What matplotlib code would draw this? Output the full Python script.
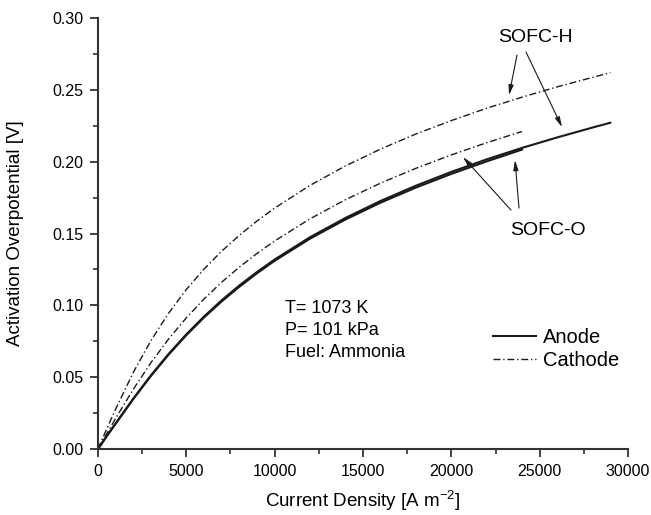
import matplotlib.pyplot as plt

plt.rcParams['font.family'] = ['Liberation Sans', 'DejaVu Sans']

# current density [A m-2]
x_h = [0, 500, 1000, 2000, 3000, 4000, 5000, 6000, 7000, 8000, 9000, 10000,
       12000, 14000, 16000, 18000, 20000, 22000, 24000, 26000, 28000, 29000]
x_o = [0, 500, 1000, 2000, 3000, 4000, 5000, 6000, 7000, 8000, 9000, 10000,
       12000, 14000, 16000, 18000, 20000, 22000, 24000]

# activation overpotential [V]
anode_h = [0, 0.009, 0.0178, 0.0351, 0.0513, 0.0662, 0.0798, 0.0922, 0.1035,
           0.1138, 0.1232, 0.1319, 0.1474, 0.1608, 0.1727, 0.1833, 0.1929,
           0.2016, 0.2096, 0.2169, 0.2238, 0.2271]
cathode_h = [0, 0.0141, 0.0278, 0.0533, 0.0755, 0.0946, 0.111, 0.1252, 0.1377,
             0.1487, 0.1587, 0.1677, 0.1835, 0.197, 0.2088, 0.2193, 0.2286,
             0.2372, 0.2449, 0.2521, 0.2587, 0.262]
anode_o = [0, 0.009, 0.0176, 0.0348, 0.0509, 0.0657, 0.0792, 0.0915, 0.1027,
           0.1129, 0.1223, 0.131, 0.1464, 0.1597, 0.1715, 0.182, 0.1915,
           0.2002, 0.2084]
cathode_o = [0, 0.0107, 0.0213, 0.0416, 0.0601, 0.0766, 0.0913, 0.1044,
             0.1161, 0.1266, 0.1361, 0.1448, 0.1602, 0.1735, 0.1851, 0.1954,
             0.2047, 0.2132, 0.221]

conditions = ['T= 1073 K', 'P= 101 kPa', 'Fuel: Ammonia']

dashdot = (0, (5, 2, 1, 2))
ink = '#1a1a1a'

fig = plt.figure(figsize=(6.51, 5.15), dpi=100)
ax = fig.add_axes([0.1505, 0.1282, 0.8142, 0.8368])

ax.plot(x_h, anode_h, color=ink, lw=1.5, label='Anode')
ax.plot(x_h, cathode_h, color=ink, lw=1.0, linestyle=dashdot, label='Cathode')
ax.plot(x_o, anode_o, color=ink, lw=1.5)
ax.plot(x_o, cathode_o, color=ink, lw=1.0, linestyle=dashdot)

ax.set_xlim(0, 30000)
ax.set_ylim(0, 0.30)
ax.set_xticks(range(0, 30001, 5000))
ax.set_xticks(range(2500, 30000, 5000), minor=True)
ax.set_yticks([0, 0.05, 0.10, 0.15, 0.20, 0.25, 0.30])
ax.set_yticks([0.025, 0.075, 0.125, 0.175, 0.225, 0.275], minor=True)
ax.yaxis.set_major_formatter(plt.FormatStrFormatter('%.2f'))

for side in ['top', 'right']:
    ax.spines[side].set_visible(False)
for side in ['left', 'bottom']:
    ax.spines[side].set_linewidth(1.5)
    ax.spines[side].set_color('#333333')
ax.tick_params(which='major', length=6, width=1.3, labelsize=11.5, pad=4.5,
               color='#333333', direction='out')
ax.tick_params(which='minor', length=3.5, width=1.2, color='#333333',
               direction='out')

ax.set_xlabel('Current Density [A m$^{\\mathregular{-2}}$]', fontsize=13.5,
              labelpad=7)
ax.set_ylabel('Activation Overpotential [V]', fontsize=13.5, labelpad=20)

ax.text(10600, 0.0825, '\n'.join(conditions), fontsize=13, va='center',
        ha='left', linespacing=1.35)

ax.legend(loc='upper left', bbox_to_anchor=(0.73, 0.30), frameon=False,
          fontsize=14.5, handlelength=2.15, handletextpad=0.35,
          labelspacing=0.2, borderaxespad=0)

arrow = dict(arrowstyle='-|>,head_length=0.6,head_width=0.15', color=ink,
             lw=0.8, shrinkA=0, shrinkB=0)
ax.text(24736, 0.2867, 'SOFC-H', fontsize=14, ha='center', va='center')
ax.annotate('', xy=(23264, 0.2463), xytext=(23717, 0.2742), arrowprops=arrow)
ax.annotate('', xy=(26264, 0.2241), xytext=(24226, 0.2763), arrowprops=arrow)
ax.text(25472, 0.1524, 'SOFC-O', fontsize=14, ha='center', va='center')
ax.annotate('', xy=(20660, 0.2032), xytext=(23377, 0.1663), arrowprops=arrow)
ax.annotate('', xy=(23604, 0.2011), xytext=(23830, 0.1677), arrowprops=arrow)

fig.savefig('out.png', dpi=100)
